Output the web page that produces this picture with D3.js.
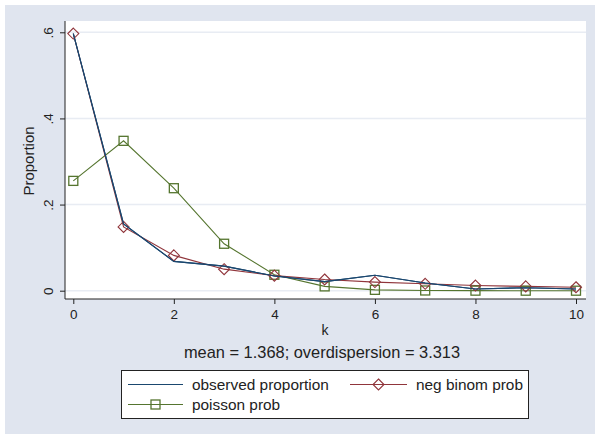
<!DOCTYPE html>
<html><head><meta charset="utf-8">
<script src="https://cdn.jsdelivr.net/npm/d3@7"></script>
<style>body{margin:0;background:#fff}svg{display:block;font-family:"Liberation Sans",Arial,sans-serif}</style>
</head><body><svg id="c" width="595" height="435"></svg>
<script>
const kValues = [0,1,2,3,4,5,6,7,8,9,10];
const observed = [0.597,0.155,0.068,0.057,0.034,0.021,0.036,0.018,0.004,0.007,0.004];
const negBinom = [0.597,0.148,0.082,0.050,0.035,0.026,0.020,0.016,0.012,0.010,0.008];
const poisson = [0.255,0.348,0.238,0.109,0.037,0.010,0.002,0.0005,0.0001,0.0,0.0];
const xTicks = [0,2,4,6,8,10];
const yTicks = [0,0.2,0.4,0.6];
const yTickLabels = ["0",".2",".4",".6"];
const seriesNames = ["observed proportion","neg binom prob","poisson prob"];
const subtitle = "mean = 1.368; overdispersion = 3.313";

const svg = d3.select("#c");
const navy="#1a476f", maroon="#90353b", green="#55752f";
svg.append("rect").attr("x",5).attr("y",5).attr("width",590).attr("height",429).attr("fill","#e0e5ef");
const pl=65, pr=586, pt=21, pb=299;
svg.append("rect").attr("x",pl).attr("y",pt).attr("width",pr-pl).attr("height",pb-pt).attr("fill","#fff");
const x=d3.scaleLinear().domain([0,10]).range([73.3,576]);
const y=d3.scaleLinear().domain([0,0.6]).range([290.7,32.3]);
// grid
svg.append("g").selectAll("line").data(yTicks).join("line")
 .attr("x1",pl).attr("x2",pr).attr("y1",d=>y(d)).attr("y2",d=>y(d))
 .attr("stroke","#e8ecf3").attr("stroke-width",1.5);
// axes
const ya=svg.append("g").attr("transform",`translate(${pl},0)`).call(d3.axisLeft(y).tickValues(yTicks).tickSize(5).tickFormat((d,i)=>yTickLabels[i]));
ya.select(".domain").attr("d",`M0,${pt}V${pb}`).attr("stroke","#222");
ya.selectAll(".tick line").attr("stroke","#222");
ya.selectAll(".tick text").attr("font-size",13.5).attr("fill","#222").attr("transform","rotate(-90)").attr("x",0).attr("y",-12).attr("dy","0").attr("text-anchor","middle");
const xa=svg.append("g").attr("transform",`translate(0,${pb})`).call(d3.axisBottom(x).tickValues(xTicks).tickSize(5));
xa.select(".domain").attr("d",`M${pl},0H${pr}`).attr("stroke","#222");
xa.selectAll(".tick line").attr("stroke","#222");
xa.selectAll(".tick text").attr("font-size",13.5).attr("fill","#222").attr("y",10).attr("dy","0.71em");
svg.append("text").attr("x",325).attr("y",335).attr("text-anchor","middle").attr("font-size",14).attr("fill","#222").text("k");
svg.append("text").attr("transform","translate(34,161) rotate(-90)").attr("text-anchor","middle").attr("font-size",15).attr("fill","#222").text("Proportion");
svg.append("text").attr("x",322).attr("y",358).attr("text-anchor","middle").attr("font-size",16.4).attr("fill","#222").text(subtitle);
// lines
const line=d3.line().x((d,i)=>x(kValues[i])).y(d=>y(d));
const series=[{v:poisson,c:green,m:"sq"},{v:negBinom,c:maroon,m:"dia"},{v:observed,c:navy,m:null}];
series.forEach(s=>{
  svg.append("path").datum(s.v).attr("d",line).attr("fill","none").attr("stroke",s.c).attr("stroke-width",1.1);
});
function marker(g,m,cx,cy,c){
  if(m==="sq") g.append("rect").attr("x",cx-4.5).attr("y",cy-4.5).attr("width",9).attr("height",9).attr("fill","none").attr("stroke",c).attr("stroke-width",1.3);
  else if(m==="dia") g.append("path").attr("d",`M${cx},${cy-5.5}L${cx+5.5},${cy}L${cx},${cy+5.5}L${cx-5.5},${cy}Z`).attr("fill","none").attr("stroke",c).attr("stroke-width",1.1);
}
const mg=svg.append("g");
series.forEach(s=>{ if(s.m) s.v.forEach((v,i)=>marker(mg,s.m,x(kValues[i]),y(v),s.c)); });
svg.append("path").datum(observed).attr("d",line).attr("fill","none").attr("stroke",navy).attr("stroke-width",1.1);
// legend
svg.append("rect").attr("x",121.5).attr("y",370.5).attr("width",407).attr("height",48).attr("fill","#fff").attr("stroke","#222").attr("stroke-width",1);
const leg=[{n:seriesNames[0],c:navy,m:null,x:128,y:384.5},{n:seriesNames[1],c:maroon,m:"dia",x:350,y:384.5},{n:seriesNames[2],c:green,m:"sq",x:128,y:404.5}];
leg.forEach(l=>{
  const lw = l.x===128?55:57;
  svg.append("line").attr("x1",l.x).attr("x2",l.x+lw).attr("y1",l.y).attr("y2",l.y).attr("stroke",l.c).attr("stroke-width",1.1);
  if(l.m) marker(svg,l.m,l.x+lw/2,l.y,l.c);
  svg.append("text").attr("x",l.x+lw+9).attr("y",l.y+5.5).attr("font-size",15.4).attr("fill","#222").text(l.n);
});
</script></body></html>
